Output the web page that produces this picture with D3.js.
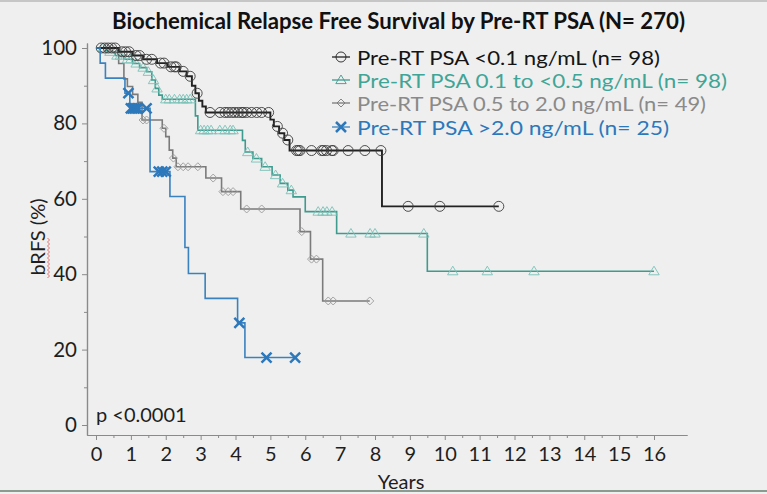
<!DOCTYPE html>
<html><head><meta charset="utf-8">
<script src="https://cdn.jsdelivr.net/npm/d3@7"></script>
<style>
html,body{margin:0;padding:0;background:#efefef;}
svg{display:block;}
text{font-family:Lato,"Open Sans",sans-serif;}
</style></head><body>
<svg id="chart" width="767" height="494"></svg>
<script>
// ---------- data ----------
const chartTitle = "Biochemical Relapse Free Survival by Pre-RT PSA (N= 270)";
const xTickValues = [0,1,2,3,4,5,6,7,8,9,10,11,12,13,14,15,16];
const yTickValues = [0,20,40,60,80,100];
const xLabel = "Years";
const yLabel = "bRFS (%)";
const pText = "p <0.0001";

const seriesNames = [
  "Pre-RT PSA <0.1 ng/mL (n= 98)",
  "Pre-RT PSA 0.1 to <0.5 ng/mL (n= 98)",
  "Pre-RT PSA 0.5 to 2.0 ng/mL (n= 49)",
  "Pre-RT PSA >2.0 ng/mL (n= 25)"
];

// step points [years, survival %]
const stepsLt01 = [[0,100],[0.65,99.0],[1.05,98.0],[1.35,97.0],[1.75,96.0],[2.05,95.0],[2.4,93.8],[2.6,92.5],[2.75,90.0],[2.85,88.0],[2.95,86.0],[3.05,84.5],[3.15,82.9],[5.0,81.0],[5.1,79.2],[5.25,77.4],[5.4,75.6],[5.55,72.8],[8.2,58.0]];
const endLt01 = 11.55;
const censLt01 = [0.15,0.25,0.35,0.45,0.55,0.75,0.85,0.95,1.15,1.25,1.45,1.6,1.85,1.95,2.15,2.25,2.3,2.5,2.7,2.9,3.27,3.56,3.7,3.79,3.89,3.98,4.08,4.18,4.22,4.32,4.46,4.61,4.75,4.95,5.2,5.35,5.5,5.75,5.8,5.85,6.18,6.47,6.52,6.61,6.76,6.8,7.23,7.71,8.17,8.95,9.86,11.55];

const steps01to05 = [[0,100],[0.3,99.0],[0.55,98.0],[0.8,97.0],[1.05,95.9],[1.25,94.8],[1.45,93.7],[1.6,91.5],[1.7,89.3],[1.8,87.5],[1.9,86.4],[2.85,82.0],[2.92,78.2],[4.2,75.5],[4.28,72.4],[4.5,70.7],[4.75,68.5],[5.05,66.3],[5.28,64.1],[5.5,62.3],[5.65,60.5],[6.0,56.6],[6.9,50.8],[9.5,40.8]];
const end01to05 = 16.0;
const cens01to05 = [0.2,0.4,0.6,0.7,0.9,1.0,1.15,1.35,1.5,1.65,1.75,2.0,2.1,2.25,2.4,2.5,2.6,2.7,3.0,3.1,3.2,3.3,3.55,3.7,3.85,3.93,4.35,4.6,4.85,5.15,5.35,5.6,6.37,6.51,6.62,6.77,7.31,7.86,8.0,9.4,10.23,11.22,12.56,16.0];

const steps05to20 = [[0,100],[0.65,95.9],[0.8,91.8],[0.9,89.8],[1.05,87.7],[1.2,85.6],[1.32,80.9],[1.9,78.7],[2.0,76.5],[2.1,72.9],[2.2,70.8],[2.3,68.5],[3.15,65.5],[3.6,61.9],[4.15,57.3],[5.85,51.3],[6.15,44.0],[6.5,32.9]];
const end05to20 = 7.85;
const cens05to20 = [0.3,0.45,1.35,1.45,1.95,2.22,2.35,2.5,2.64,2.92,3.36,3.64,3.79,3.93,4.32,4.75,5.9,6.18,6.32,6.66,6.8,7.85];

const stepsGt20 = [[0,100],[0.12,96],[0.27,92],[0.83,88],[0.97,84],[1.55,67.2],[2.12,60.6],[2.55,47.1],[2.65,40.2],[3.13,33.6],[4.06,27.1],[4.27,17.9]];
const endGt20 = 5.71;
const censGt20 = [0.93,1.0,1.05,1.1,1.15,1.2,1.45,1.8,1.9,2.0,4.11,4.89,5.71];

// ---------- styling ----------
const series = [
  {name:seriesNames[2], steps:steps05to20, end:end05to20, cens:cens05to20, line:"#7b7b7b", mark:"#9a9a9a", text:"#8a8a8a", sym:"diamond", lw:1.6},
  {name:seriesNames[1], steps:steps01to05, end:end01to05, cens:cens01to05, line:"#3f9b8e", mark:"#78c2b8", text:"#3fa596", sym:"triangle", lw:1.6},
  {name:seriesNames[0], steps:stepsLt01, end:endLt01, cens:censLt01, line:"#222222", mark:"#3c3c3c", text:"#141414", sym:"circle", lw:1.9},
  {name:seriesNames[3], steps:stepsGt20, end:endGt20, cens:censGt20, line:"#3a82bf", mark:"#2c78bb", text:"#2c78bb", sym:"x", lw:1.6}
];
const legendOrder = [2,1,0,3];

const svg = d3.select("#chart");
const W = 767, H = 494;
svg.append("rect").attr("width",W).attr("height",H).attr("fill","#efefef");
svg.append("line").attr("x1",0).attr("x2",W).attr("y1",1).attr("y2",1).attr("stroke","#b8b8b8").attr("stroke-width",1.5);
svg.append("line").attr("x1",0).attr("x2",W).attr("y1",491).attr("y2",491).attr("stroke","#8c9b8f").attr("stroke-width",2);

const x = d3.scaleLinear().domain([0,16]).range([96,654]);
const y = d3.scaleLinear().domain([0,100]).range([425,48]);
const xA = x.copy().domain([x.invert(87), x.invert(687)]).range([87,687]);
const yA = y.copy().domain([y.invert(435), y.invert(43)]).range([435,43]);

// axes
const axisColor = "#8a8a8a";
function styleAxis(g, fs){
  g.select(".domain").attr("stroke",axisColor).attr("stroke-width",1.2);
  g.selectAll(".tick line").attr("stroke",axisColor);
  g.selectAll(".tick text").attr("fill","#1e1e1e").style("font-size",fs+"px").style("font-family","Lato,'Open Sans',sans-serif");
}
const gxMinor = svg.append("g").attr("transform","translate(0,435)")
  .call(d3.axisBottom(xA).tickValues(xTickValues.slice(0,-1).map(d=>d+0.5)).tickSize(3).tickSizeOuter(0).tickFormat(""));
styleAxis(gxMinor,20);
const gx = svg.append("g").attr("transform","translate(0,435)")
  .call(d3.axisBottom(xA).tickValues(xTickValues).tickSize(5).tickSizeOuter(0).tickPadding(7).tickFormat(d3.format("d")));
styleAxis(gx,20);

const gyMinor = svg.append("g").attr("transform","translate(87,0)")
  .call(d3.axisLeft(yA).tickValues(yTickValues.slice(0,-1).map(d=>d+10)).tickSize(3).tickSizeOuter(0).tickFormat(""));
styleAxis(gyMinor,20);
const gy = svg.append("g").attr("transform","translate(87,0)")
  .call(d3.axisLeft(yA).tickValues(yTickValues).tickSize(5).tickSizeOuter(0).tickPadding(5));
styleAxis(gy,20.5);

// labels
svg.append("text").attr("x",401).attr("y",481).attr("text-anchor","middle").attr("dominant-baseline","central")
  .attr("fill","#1e1e1e").style("font-size","20px").text(xLabel);
svg.append("text").attr("transform","translate(37,237) rotate(-90)").attr("text-anchor","middle").attr("dominant-baseline","central")
  .attr("fill","#1e1e1e").style("font-size","20px").text(yLabel);
// spell-check squiggle under "bRFS"
const sq = d3.range(0,21).map(i=>[i%2? 49.5:47.5, 278 - i*2]);
svg.append("path").attr("d",d3.line()(sq)).attr("fill","none").attr("stroke","#e05050").attr("stroke-width",0.8);

svg.append("text").attr("x",398.5).attr("y",20).attr("text-anchor","middle").attr("dominant-baseline","central")
  .attr("fill","#111").style("font-size","23.5px").style("font-weight","700")
  .attr("textLength",573).attr("lengthAdjust","spacingAndGlyphs").text(chartTitle);

svg.append("text").attr("x",96).attr("y",414).attr("dominant-baseline","central")
  .attr("fill","#1e1e1e").style("font-size","20px").text(pText);

// curves
function surv(steps, t){ let v = steps[0][1]; for (const s of steps){ if (s[0] <= t) v = s[1]; } return v; }
function drawSym(g, sym, color, cx, cy){
  if (sym==="circle") g.append("circle").attr("cx",cx).attr("cy",cy).attr("r",5).attr("fill","none").attr("stroke",color).attr("stroke-width",0.9);
  else if (sym==="triangle") g.append("path").attr("transform",`translate(${cx},${cy})`).attr("d","M0,-5L5.2,3.6L-5.2,3.6Z").attr("fill","none").attr("stroke",color).attr("stroke-width",0.9);
  else if (sym==="diamond") g.append("path").attr("transform",`translate(${cx},${cy})`).attr("d","M0,-4L4,0L0,4L-4,0Z").attr("fill","none").attr("stroke",color).attr("stroke-width",0.9);
  else g.append("path").attr("transform",`translate(${cx},${cy})`).attr("d","M-5,-5L5,5M-5,5L5,-5").attr("fill","none").attr("stroke",color).attr("stroke-width",2.5);
}
const line = d3.line().x(d=>x(d[0])).y(d=>y(d[1])).curve(d3.curveStepAfter);
series.forEach(s=>{
  const g = svg.append("g");
  const pts = s.steps.concat([[s.end, s.steps[s.steps.length-1][1]]]);
  g.append("path").attr("d",line(pts)).attr("fill","none").attr("stroke",s.line).attr("stroke-width",s.lw);
  s.cens.forEach(t=> drawSym(g, s.sym, s.mark, x(t), y(surv(s.steps,t))));
});

// legend
const legendY = [57,80,103,127];
const legendW = [303,370,349,312];
legendOrder.forEach((si,i)=>{
  const s = series[si];
  const g = svg.append("g");
  g.append("line").attr("x1",332).attr("x2",350).attr("y1",legendY[i]).attr("y2",legendY[i]).attr("stroke",s.line).attr("stroke-width",1.3);
  drawSym(g, s.sym, s.sym==="x"? s.mark : s.line, 341, legendY[i]);
  g.append("text").attr("x",357).attr("y",legendY[i]).attr("dominant-baseline","central")
    .attr("fill",s.text).style("font-size","19px")
    .attr("textLength",legendW[i]).attr("lengthAdjust","spacingAndGlyphs").text(s.name);
});
</script>
</body></html>
